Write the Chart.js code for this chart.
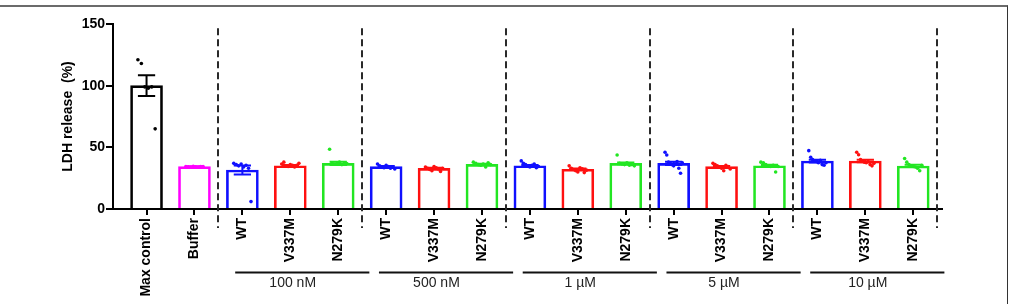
<!DOCTYPE html>
<html><head><meta charset="utf-8">
<script src="https://cdn.jsdelivr.net/npm/chart.js@4.4.1/dist/chart.umd.min.js"></script>
<style>
html,body{margin:0;padding:0;background:#fff;}
#wrap{position:relative;width:1013px;height:304px;overflow:hidden;}
#frame{position:absolute;left:0;top:5px;width:1008px;height:299px;border-top:2px solid #6b6b6b;border-right:1px solid #333;box-sizing:border-box;pointer-events:none;}
canvas{position:absolute;left:0;top:0;}
</style></head><body>
<div id="wrap"><canvas id="c" width="1013" height="304"></canvas><div id="frame"></div></div>
<script>
// ---- data ----
const categories = ['Max control','Buffer',
  'WT','V337M','N279K',
  'WT','V337M','N279K',
  'WT','V337M','N279K',
  'WT','V337M','N279K',
  'WT','V337M','N279K'];
const groupLabels = ['100 nM','500 nM','1 µM','5 µM','10 µM'];
const means = [100, 34.3, 31.6, 35.1, 37.0, 34.3, 33.0, 36.2, 35.1, 32.2, 37.0, 37.0, 34.3, 35.1, 38.9, 38.9, 34.9];
const sems  = [8.4, 0.3, 3.7, 0.5, 1.3, 0.5, 0.5, 0.5, 0.6, 0.6, 0.8, 1.4, 0.6, 0.8, 1.1, 1.0, 0.9];
const points = [
  [121, 118, 99, 98, 99, 65],
  [34.5, 34.2, 34.0, 34.6, 34.3, 34.1, 34.4, 34.5],
  [37, 36, 35, 36.5, 34, 35.5, 33, 6],
  [36.5, 38, 35, 34.5, 36, 35.5, 34, 35.5, 37],
  [48.4, 37.5, 36.5, 37, 38, 36, 37.5, 36.8],
  [36.5, 35, 34, 33.5, 35.5, 34.5, 33, 34, 32.5],
  [34, 33, 32, 31, 34.5, 33.5, 32.5, 30.5, 33],
  [38, 37, 36, 35.5, 36.5, 34, 37.5, 36],
  [39, 37, 36, 35, 34, 35.5, 36.5, 33.5, 34.5],
  [35, 33, 32, 31, 30, 33.5, 32.5, 29.5, 31.5],
  [43.8, 37, 36.5, 36, 37.5, 35.5, 36, 35],
  [46, 43.8, 38, 37, 36, 35, 36.5, 38.5, 33, 29, 37.5],
  [37, 36, 35, 34, 33, 31, 35.5, 34.5, 32.5],
  [38, 37.5, 36, 35, 34.5, 35.5, 30, 34.5],
  [47.3, 42, 40, 39, 38.5, 37.5, 39.5, 36, 35.5, 37.5],
  [46, 44, 40, 39, 38, 37.5, 38.5, 36, 35, 37],
  [41, 38, 36, 35, 34.5, 34, 33, 31, 35.5]
];
const yTicks = [0, 50, 100, 150];

// ---- styles ----
const colorOf = {'Max control':'#000000','Buffer':'#ff00ff','WT':'#1010ff','V337M':'#ff1010','N279K':'#22e622'};
const barColors = categories.map(c => colorOf[c]);
const FONT = "'Liberation Sans', Arial, sans-serif";

const barData = categories.map((c, i) => ({x: i, y: means[i]}));
const dotData = [], dotColors = [];
points.forEach((arr, i) => {
  const n = arr.length;
  arr.forEach((v, j) => {
    const off = n > 1 ? (j / (n - 1) - 0.5) * 0.36 : 0;
    dotData.push({x: i + off, y: v});
    dotColors.push(barColors[i]);
  });
});

const firstOfGroup = groupLabels.map((g, k) => 2 + 3 * k);

const overlay = {
  id: 'overlay',
  afterDatasetsDraw(chart) {
    const {ctx, scales: {x, y}} = chart;
    ctx.save();
    ctx.lineWidth = 2;
    means.forEach((m, i) => {
      const cx = x.getPixelForValue(i);
      const hw = (x.getPixelForValue(0.18) - x.getPixelForValue(0));
      const yt = y.getPixelForValue(m + sems[i]);
      const yb = y.getPixelForValue(m - sems[i]);
      ctx.strokeStyle = barColors[i];
      ctx.beginPath();
      ctx.moveTo(cx, yt); ctx.lineTo(cx, yb);
      ctx.moveTo(cx - hw, yt); ctx.lineTo(cx + hw, yt);
      ctx.moveTo(cx - hw, yb); ctx.lineTo(cx + hw, yb);
      ctx.stroke();
    });
    ctx.restore();
  },
  afterDraw(chart) {
    const {ctx, scales: {x, y}} = chart;
    ctx.save();
    const seps = firstOfGroup.map(f => f - 0.5).concat([firstOfGroup[firstOfGroup.length - 1] + 2.5]);
    ctx.strokeStyle = '#2a2a2a';
    ctx.lineWidth = 2;
    ctx.setLineDash([7, 4]);
    seps.forEach(s => {
      const px = Math.round(x.getPixelForValue(s));
      ctx.beginPath();
      ctx.moveTo(px, y.getPixelForValue(146.5));
      ctx.lineTo(px, y.bottom + 19);
      ctx.stroke();
    });
    ctx.setLineDash([]);
    ctx.strokeStyle = '#111';
    ctx.lineWidth = 2;
    ctx.fillStyle = '#222';
    ctx.font = "14px " + FONT;
    ctx.textAlign = 'center';
    ctx.textBaseline = 'middle';
    groupLabels.forEach((g, k) => {
      const f = firstOfGroup[k];
      const x1 = x.getPixelForValue(f - 0.15);
      const x2 = x.getPixelForValue(f + 2.65);
      ctx.beginPath();
      ctx.moveTo(x1, 272.5); ctx.lineTo(x2, 272.5);
      ctx.stroke();
      ctx.fillText(g, x.getPixelForValue(f + 1.05), 283);
    });
    ctx.restore();
  }
};

new Chart(document.getElementById('c'), {
  type: 'bar',
  data: {
    datasets: [
      {
        type: 'scatter', order: 0, data: dotData,
        pointBackgroundColor: dotColors, pointBorderWidth: 0, pointRadius: 1.8
      },
      {
        type: 'bar', order: 1, data: barData,
        backgroundColor: 'rgba(0,0,0,0)', borderColor: barColors, borderWidth: 2,
        barThickness: 32
      }
    ]
  },
  options: {
    responsive: false,
    devicePixelRatio: 1,
    animation: false,
    events: [],
    layout: {padding: {left: 60, top: 24, right: 71, bottom: 0}},
    plugins: {legend: {display: false}, tooltip: {enabled: false}},
    scales: {
      x: {
        type: 'linear', min: -0.7, max: 16.6, offset: false,
        afterBuildTicks: axis => { axis.ticks = categories.map((c, i) => ({value: i})); },
        afterFit: s => { s.height = 95; },
        grid: {display: true, offset: false, drawOnChartArea: false, drawTicks: true, tickLength: 6, color: '#000', lineWidth: 2},
        border: {display: true, color: '#000', width: 2},
        ticks: {
          autoSkip: false, maxRotation: 90, minRotation: 90, padding: 3,
          color: '#000', font: {family: FONT, size: 14, weight: 'bold'},
          callback: v => categories[v] ?? ''
        }
      },
      y: {
        min: 0, max: 150,
        afterBuildTicks: axis => { axis.ticks = yTicks.map(v => ({value: v})); },
        afterFit: s => { s.width = 53; },
        grid: {display: true, drawOnChartArea: false, drawTicks: true, tickLength: 7, color: '#000', lineWidth: 2},
        border: {display: true, color: '#000', width: 2},
        ticks: {padding: 1, color: '#000', font: {family: FONT, size: 14, weight: 'bold'}},
        title: {display: true, text: 'LDH release  (%)', color: '#000', padding: {top: 0, bottom: 0},
          font: {family: FONT, size: 14, weight: 'bold'}}
      }
    }
  },
  plugins: [overlay]
});
</script>
</body></html>
